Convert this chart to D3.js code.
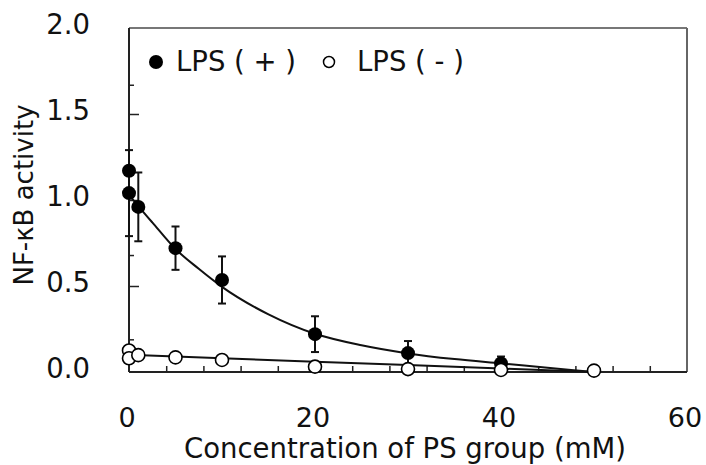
<!DOCTYPE html>
<html>
<head>
<meta charset="utf-8">
<script src="https://cdn.jsdelivr.net/npm/d3@7"></script>
<style>
  html, body { margin: 0; padding: 0; background: #fff; }
  svg { display: block; }
  text { font-family: "DejaVu Sans", Verdana, sans-serif; fill: #111; }
</style>
</head>
<body>
<svg id="chart" width="706" height="465"></svg>
<script>
// ---- data ----
const concPlus   = [0, 0, 1, 5, 10, 20, 30, 40];
const lpsPlus    = [1.17, 1.04, 0.96, 0.72, 0.535, 0.22, 0.11, 0.05];
const lpsPlusErr = [0, 0.25, 0.20, 0.126, 0.137, 0.104, 0.07, 0.04];

const concMinus  = [0, 0, 1, 5, 10, 20, 30, 40, 50];
const lpsMinus   = [0.125, 0.08, 0.098, 0.085, 0.07, 0.031, 0.017, 0.012, 0.008];

// fitted curves
const fitPlusX   = [0, 1, 2.5, 5, 7.5, 10, 15, 20, 25, 30, 35, 40, 45, 50];
const fitPlusY   = [1.03, 0.965, 0.87, 0.715, 0.60, 0.495, 0.335, 0.222, 0.155, 0.108, 0.075, 0.05, 0.025, 0.0];
const fitMinusX  = [0, 10, 20, 30, 40, 50];
const fitMinusY  = [0.10, 0.08, 0.06, 0.04, 0.02, 0.0];

const xTickLabels  = [0, 20, 40, 60];
const xMinorTicks  = [4, 8, 12, 16, 20, 24, 28, 32, 36, 40, 44, 48, 52, 56];
const yTickLabels  = ["0.0", "0.5", "1.0", "1.5", "2.0"];
const yMajorTicks  = [0.5, 1.0, 1.5];
const yMinorTicks  = [0.19, 0.68, 1.17, 1.67];

const legendLabels = ["LPS ( + )", "LPS ( - )"];
const xTitle = "Concentration of PS group (mM)";
const yTitle = "NF-κB activity";

// ---- layout ----
const svg = d3.select("#chart");
const L = 129, R = 687, T = 28, B = 372;
const x = d3.scaleLinear().domain([0, 60]).range([L, R]);
const y = d3.scaleLinear().domain([0, 2]).range([B, T]);

// frame
svg.append("line").attr("x1", L).attr("x2", R).attr("y1", T).attr("y2", T)
  .attr("stroke", "#777").attr("stroke-width", 2);
svg.append("line").attr("x1", R).attr("x2", R).attr("y1", T).attr("y2", B)
  .attr("stroke", "#666").attr("stroke-width", 2);

// bottom axis with inward ticks
const xAxis = d3.axisBottom(x).tickValues(xMinorTicks).tickSize(-6).tickFormat("");
const gx = svg.append("g").attr("transform", `translate(0,${B})`).call(xAxis);
gx.select(".domain").attr("stroke", "#222").attr("stroke-width", 2).attr("d", `M${L},0H${R}`);
gx.selectAll(".tick line").attr("stroke", "#222").attr("stroke-width", 1.5);

svg.append("g").selectAll("text").data(xTickLabels).join("text")
  .attr("x", d => x(d) - 2).attr("y", 427)
  .attr("text-anchor", "middle").attr("font-size", 27).text(d => d);

// left axis with inward ticks
const yAxis = d3.axisLeft(y).tickValues(yMajorTicks).tickSize(-10).tickFormat("");
const gy = svg.append("g").attr("transform", `translate(${L},0)`).call(yAxis);
gy.select(".domain").attr("stroke", "#222").attr("stroke-width", 2).attr("d", `M0,${T}V${B}`);
gy.selectAll(".tick line").attr("stroke", "#222").attr("stroke-width", 1.5);
const yAxisMinor = d3.axisLeft(y).tickValues(yMinorTicks).tickSize(-5).tickFormat("");
const gy2 = svg.append("g").attr("transform", `translate(${L},0)`).call(yAxisMinor);
gy2.select(".domain").remove();
gy2.selectAll(".tick line").attr("stroke", "#222").attr("stroke-width", 1.5);

svg.append("g").selectAll("text").data(yTickLabels).join("text")
  .attr("x", 90).attr("y", d => y(+d) + 6)
  .attr("text-anchor", "end").attr("font-size", 27.5).text(d => d);

// titles
svg.append("text").attr("x", 405).attr("y", 458).attr("text-anchor", "middle")
  .attr("font-size", 27.5).text(xTitle);
svg.append("text").attr("transform", "translate(33,195) rotate(-90)")
  .attr("text-anchor", "middle").attr("font-size", 26).text(yTitle);

// fitted lines
const line = d3.line().x(d => x(d[0])).y(d => y(d[1])).curve(d3.curveMonotoneX);
svg.append("path").datum(fitPlusX.map((v, i) => [v, fitPlusY[i]]))
  .attr("d", line).attr("fill", "none").attr("stroke", "#111").attr("stroke-width", 2);
svg.append("path").datum(fitMinusX.map((v, i) => [v, fitMinusY[i]]))
  .attr("d", d3.line().x(d => x(d[0])).y(d => y(d[1])))
  .attr("fill", "none").attr("stroke", "#111").attr("stroke-width", 2);

// error bars
const plusData = concPlus.map((v, i) => ({ x: v, y: lpsPlus[i], e: lpsPlusErr[i] }));
const eb = svg.append("g").attr("stroke", "#111").attr("stroke-width", 2);
plusData.filter(d => d.e > 0).forEach(d => {
  const cx = x(d.x), y1 = y(d.y + d.e), y2 = y(d.y - d.e);
  eb.append("line").attr("x1", cx).attr("x2", cx).attr("y1", y1).attr("y2", y2);
  eb.append("line").attr("x1", cx - 4).attr("x2", cx + 4).attr("y1", y1).attr("y2", y1);
  eb.append("line").attr("x1", cx - 4).attr("x2", cx + 4).attr("y1", y2).attr("y2", y2);
});

// markers
svg.append("g").selectAll("circle").data(plusData).join("circle")
  .attr("cx", d => x(d.x)).attr("cy", d => y(d.y)).attr("r", 7)
  .attr("fill", "#000");
svg.append("g").selectAll("circle").data(concMinus.map((v, i) => ({ x: v, y: lpsMinus[i] }))).join("circle")
  .attr("cx", d => x(d.x)).attr("cy", d => y(d.y)).attr("r", 6.5)
  .attr("fill", "#fff").attr("stroke", "#000").attr("stroke-width", 1.6);

// legend
svg.append("circle").attr("cx", 156).attr("cy", 62).attr("r", 7).attr("fill", "#000");
svg.append("text").attr("x", 176).attr("y", 71).attr("font-size", 27.5).text(legendLabels[0]);
svg.append("circle").attr("cx", 329).attr("cy", 62).attr("r", 5.5)
  .attr("fill", "#fff").attr("stroke", "#000").attr("stroke-width", 1.5);
svg.append("text").attr("x", 357).attr("y", 71).attr("font-size", 27.5).text(legendLabels[1]);
</script>
</body>
</html>
